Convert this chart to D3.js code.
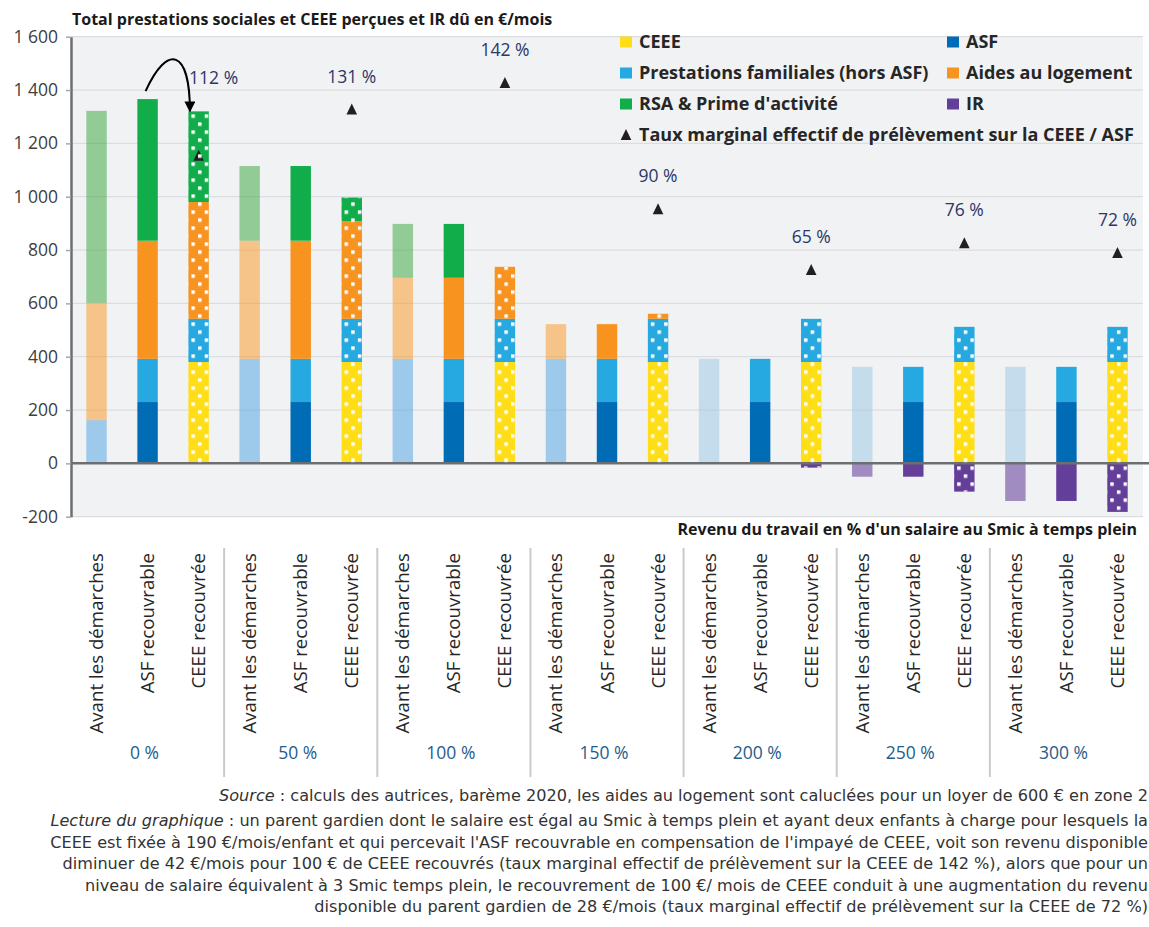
<!DOCTYPE html>
<html>
<head>
<meta charset="utf-8">
<script src="https://cdn.jsdelivr.net/npm/d3@7"></script>
<style>
  body { margin: 0; background: #fff; }
  svg { display: block; }
</style>
</head>
<body>
<div class="canvas"></div>
<script>
// data (21 bars = 7 salary levels x 3 scenarios)
const groups = ["0 %", "50 %", "100 %", "150 %", "200 %", "250 %", "300 %"];
const scenarios = ["Avant les démarches", "ASF recouvrable", "CEEE recouvrée"];

const ceee = [0, 0, 380, 0, 0, 380, 0, 0, 380, 0, 0, 380, 0, 0, 380, 0, 0, 380, 0, 0, 380];
const asf = [0, 230, 0, 230, 230, 0, 230, 230, 0, 230, 230, 0, 230, 230, 0, 230, 230, 0, 230, 230, 0];
const pf = [162, 162, 162, 162, 162, 162, 162, 162, 162, 162, 162, 162, 162, 162, 162, 132, 132, 132, 132, 132, 132];
const al = [440, 443, 438, 443, 443, 366, 304, 304, 195, 130, 130, 19, 0, 0, 0, 0, 0, 0, 0, 0, 0];
const rsa = [720, 531, 340, 280, 280, 89, 202, 202, 0, 0, 0, 0, 0, 0, 0, 0, 0, 0, 0, 0, 0];
const ir = [0, 0, 0, 0, 0, 0, 0, 0, 0, 0, 0, 0, 0, 0, -16, -50, -50, -106, -141, -141, -182];

// taux marginal effectif (%), one per salary level, shown on the CEEE bar
const taux = [112, 131, 142, 90, 65, 76, 72];

const yTicks = [-200, 0, 200, 400, 600, 800, 1000, 1200, 1400, 1600];

const keys = ["ceee", "asf", "pf", "al", "rsa", "ir"];
const keyLabels = ["CEEE", "ASF", "Prestations familiales (hors ASF)", "Aides au logement", "RSA & Prime d'activité", "IR"];

const title = "Total prestations sociales et CEEE perçues et IR dû en €/mois";
const xTitle = "Revenu du travail en % d'un salaire au Smic à temps plein";
const tauxLabel = "Taux marginal effectif de prélèvement sur la CEEE / ASF";

const notes = [
  [["Source", true], [" : calculs des autrices, barème 2020, les aides au logement sont caluclées pour un loyer de 600 € en zone 2", false]],
  [["Lecture du graphique", true], [" : un parent gardien dont le salaire est égal au Smic à temps plein et ayant deux enfants à charge pour lesquels la", false]],
  [["CEEE est fixée à 190 €/mois/enfant et qui percevait l'ASF recouvrable en compensation de l'impayé de CEEE, voit son revenu disponible", false]],
  [["diminuer de 42 €/mois pour 100 € de CEEE recouvrés (taux marginal effectif de prélèvement sur la CEEE de 142 %), alors que pour un", false]],
  [["niveau de salaire équivalent à 3 Smic temps plein, le recouvrement de 100 €/ mois de CEEE conduit à une augmentation du revenu", false]],
  [["disponible du parent gardien de 28 €/mois (taux marginal effectif de prélèvement sur la CEEE de 72 %)", false]],
];

// ---- layout & styles
const dims = { width: 1149, height: 927 };
const plot = { left: 71, right: 1143, top: 36.7, bottom: 516.7 };

const colour = d3.scaleOrdinal()
  .domain(keys)
  .range(["#ffde17", "#006cb5", "#26a9e0", "#f7931e", "#11ad4b", "#643f99"]);

// faded colours used for "Avant les démarches" (drawn at half opacity)
const fadeColour = { ceee: "#ffde17", asf: "#49a0e0", pf: "#49a0e0", al: "#fb941e", rsa: "#35a43a", ir: "#4f268c" };
const paleBlue = "#99c6e6";

const svg = d3
  .select(".canvas")
  .append("svg")
  .attr("width", dims.width)
  .attr("height", dims.height)
  .style("font-family", "'Open Sans', sans-serif");

const defs = svg.append("defs");

// rows for the stack
const bars = d3.range(groups.length * scenarios.length).map((i) => ({
  id: i,
  group: Math.floor(i / 3),
  scen: i % 3,
  ceee: ceee[i],
  asf: asf[i],
  pf: pf[i],
  al: al[i],
  rsa: rsa[i],
  ir: ir[i],
}));

const stack = d3.stack().keys(keys).offset(d3.stackOffsetDiverging);
const series = stack(bars);

// scales
const x = d3
  .scaleBand()
  .domain(bars.map((d) => d.id))
  .range([plot.left, plot.right])
  .paddingInner(0.6)
  .paddingOuter(0.3);

const y = d3.scaleLinear().domain([-200, 1600]).range([plot.bottom, plot.top]);

// secondary (hidden) scale for the taux markers
const yT = d3.scaleLinear().domain([-36.5, 161]).range([plot.bottom, plot.top]);

// plot background
svg
  .append("rect")
  .attr("x", plot.left)
  .attr("y", plot.top)
  .attr("width", plot.right - plot.left)
  .attr("height", plot.bottom - plot.top)
  .attr("fill", "#f1f2f4");

// gridlines
svg
  .append("g")
  .selectAll("line")
  .data(yTicks.filter((d) => d !== 0))
  .enter()
  .append("line")
  .attr("x1", plot.left)
  .attr("x2", plot.right)
  .attr("y1", (d) => y(d))
  .attr("y2", (d) => y(d))
  .attr("stroke", "#dcdde0")
  .attr("stroke-width", 1.2);

// bars
const fillFor = (key, d) => {
  if (d.scen !== 0) return colour(key);
  if ((key === "asf" || key === "pf") && d.group >= 4) return paleBlue;
  return fadeColour[key];
};

const graph = svg.append("g");
series.forEach((s) => {
  graph
    .append("g")
    .selectAll("rect")
    .data(s.filter((d) => d[1] !== d[0]))
    .enter()
    .append("rect")
    .attr("x", (d) => x(d.data.id))
    .attr("width", x.bandwidth())
    .attr("y", (d) => y(Math.max(d[0], d[1])))
    .attr("height", (d) => Math.abs(y(d[0]) - y(d[1])))
    .attr("fill", (d) => fillFor(s.key, d.data))
    .attr("fill-opacity", (d) => (d.data.scen === 0 ? 0.5 : 1));
});

// CEEE recouvrée bars are dotted
const ceeeBars = bars.filter((d) => d.scen === 2);
const barTop = (d) => d3.sum(keys.slice(0, 5), (k) => d[k]);

ceeeBars.forEach((d) => {
  const p = defs
    .append("pattern")
    .attr("id", `dots${d.id}`)
    .attr("patternUnits", "userSpaceOnUse")
    .attr("x", x(d.id) + 3)
    .attr("y", y(0) + 3)
    .attr("width", 13.3)
    .attr("height", 16);
  p.append("rect").attr("x", 0).attr("y", 0).attr("width", 3.5).attr("height", 3.5).attr("fill", "#fff");
  p.append("rect").attr("x", 6.65).attr("y", 8).attr("width", 3.5).attr("height", 3.5).attr("fill", "#fff");
});

// zero line
svg
  .append("line")
  .attr("x1", plot.left)
  .attr("x2", dims.width)
  .attr("y1", y(0))
  .attr("y2", y(0))
  .attr("stroke", "#6d6e71")
  .attr("stroke-width", 2.5);

// taux markers
const tri = (cx, cy) => `M${cx},${cy - 6}L${cx + 5.3},${cy + 5}L${cx - 5.3},${cy + 5}Z`;

svg
  .append("g")
  .selectAll("path")
  .data(ceeeBars)
  .enter()
  .append("path")
  .attr("d", (d) => tri(x(d.id) + x.bandwidth() / 2, yT(taux[d.group])))
  .attr("fill", "#231f20");

// dots drawn over bars (and markers)
svg
  .append("g")
  .selectAll("rect")
  .data(ceeeBars)
  .enter()
  .append("rect")
  .attr("x", (d) => x(d.id))
  .attr("width", x.bandwidth())
  .attr("y", (d) => y(barTop(d)))
  .attr("height", (d) => y(d.ir) - y(barTop(d)))
  .attr("fill", (d) => `url(#dots${d.id})`);

// taux labels
svg
  .append("g")
  .selectAll("text")
  .data(ceeeBars)
  .enter()
  .append("text")
  .attr("x", (d) => {
    const inside = yT(taux[d.group]) > y(barTop(d));
    return x(d.id) + x.bandwidth() / 2 + (inside ? 15 : 0);
  })
  .attr("y", (d) => {
    const ty = yT(taux[d.group]);
    return ty > y(barTop(d)) ? y(barTop(d)) - 27 : ty - 27;
  })
  .attr("text-anchor", "middle")
  .style("font-size", "17.5px")
  .attr("fill", "#2b3766")
  .text((d) => `${taux[d.group]} %`);

// curved arrow from ASF recouvrable to CEEE recouvrée at 0 %
defs
  .append("marker")
  .attr("id", "head")
  .attr("viewBox", "0 0 10 10")
  .attr("refX", 9)
  .attr("refY", 5)
  .attr("markerWidth", 5.5)
  .attr("markerHeight", 5.5)
  .attr("markerUnits", "strokeWidth")
  .attr("orient", "auto")
  .append("path")
  .attr("d", "M0,0L10,5L0,10Z")
  .attr("fill", "#000");

const a0 = bars[1], a1 = bars[2];
const sx = x(a0.id) + x.bandwidth() / 2 - 2, sy = y(barTop(a0)) - 8;
const ex = x(a1.id) + 1.5, ey = y(barTop(a1));
svg
  .append("path")
  .attr("d", `M${sx},${sy}C${sx + 22},${sy - 48} ${ex},${sy - 42} ${ex},${ey}`)
  .attr("fill", "none")
  .attr("stroke", "#000")
  .attr("stroke-width", 2)
  .attr("marker-end", "url(#head)");

// y axis
const fr = d3.formatLocale({ decimal: ",", thousands: " ", grouping: [3], currency: ["", " €"], minus: "-" });
const yAxis = d3
  .axisLeft(y)
  .tickValues(yTicks)
  .tickSize(5)
  .tickSizeOuter(0)
  .tickPadding(8)
  .tickFormat(fr.format(","));

const yAxisGroup = svg.append("g").attr("transform", `translate(${plot.left}, 0)`).call(yAxis);
yAxisGroup.select(".domain").attr("stroke", "#6d6e71").attr("stroke-width", 2.5);
yAxisGroup.selectAll(".tick line").attr("stroke", "#a6a6a6").attr("stroke-width", 1.5);
yAxisGroup
  .selectAll(".tick text")
  .attr("fill", "#404040")
  .style("font-family", "'Open Sans', sans-serif")
  .style("font-size", "17.5px");

// x labels (rotated) and group labels
const xLab = svg.append("g");
xLab
  .selectAll("text.scen")
  .data(bars)
  .enter()
  .append("text")
  .attr("class", "scen")
  .attr("transform", (d) => `translate(${x(d.id) + x.bandwidth() / 2}, 553) rotate(-90)`)
  .attr("dy", "0.35em")
  .attr("text-anchor", "end")
  .style("font-size", "18.7px")
  .attr("fill", "#262626")
  .text((d) => scenarios[d.scen]);

xLab
  .selectAll("text.grp")
  .data(groups)
  .enter()
  .append("text")
  .attr("class", "grp")
  .attr("x", (d, i) => x(i * 3 + 1) + x.bandwidth() / 2 - 3)
  .attr("y", 759)
  .attr("text-anchor", "middle")
  .style("font-size", "17.5px")
  .attr("fill", "#1f5d8c")
  .text((d) => d);

// separators between salary levels
xLab
  .selectAll("line")
  .data(d3.range(1, groups.length))
  .enter()
  .append("line")
  .attr("x1", (g) => x(g * 3) - x.step() * x.paddingInner() / 2)
  .attr("x2", (g) => x(g * 3) - x.step() * x.paddingInner() / 2)
  .attr("y1", 548)
  .attr("y2", 777)
  .attr("stroke", "#cacaca")
  .attr("stroke-width", 2);

// titles
svg
  .append("text")
  .attr("x", 72)
  .attr("y", 25)
  .style("font-weight", "bold")
  .style("font-size", "16px")
  .attr("fill", "#1a1a1a")
  .text(title);

svg
  .append("text")
  .attr("x", 1137)
  .attr("y", 535)
  .attr("text-anchor", "end")
  .style("font-weight", "bold")
  .style("font-size", "16px")
  .attr("fill", "#1a1a1a")
  .text(xTitle);

// legend
const legendGroup = svg.append("g");
const legendOrder = ["ceee", "asf", "pf", "al", "rsa", "ir"];
const legendItems = legendGroup
  .selectAll("g")
  .data(legendOrder)
  .enter()
  .append("g")
  .attr("transform", (d, i) => `translate(${i % 2 ? 947 : 620}, ${42 + Math.floor(i / 2) * 31})`);

legendItems
  .append("rect")
  .attr("x", 0)
  .attr("y", -5.5)
  .attr("width", 12)
  .attr("height", 11)
  .attr("fill", (d) => colour(d));

legendItems
  .append("text")
  .attr("x", 19)
  .attr("dy", "0.36em")
  .style("font-weight", "bold")
  .style("font-size", "18px")
  .attr("fill", "#262626")
  .text((d) => keyLabels[keys.indexOf(d)]);

const tauxItem = legendGroup.append("g").attr("transform", "translate(620, 135)");
tauxItem.append("path").attr("d", tri(6, 0)).attr("fill", "#231f20");
tauxItem
  .append("text")
  .attr("x", 19)
  .attr("dy", "0.36em")
  .style("font-weight", "bold")
  .style("font-size", "18px")
  .attr("fill", "#262626")
  .text(tauxLabel);

// notes
const noteGroup = svg.append("g");
const noteY = [801, 826, 847.5, 869, 890.5, 912];
notes.forEach((parts, i) => {
  const t = noteGroup
    .append("text")
    .attr("x", 1148)
    .attr("y", noteY[i])
    .attr("text-anchor", "end")
    .style("font-family", "'DejaVu Sans', sans-serif")
    .style("font-size", "16.1px")
    .style("font-weight", "normal")
    .attr("fill", "#333");
  parts.forEach(([str, it]) => {
    t.append("tspan").style("font-style", it ? "italic" : "normal").text(str);
  });
});
</script>
</body>
</html>
